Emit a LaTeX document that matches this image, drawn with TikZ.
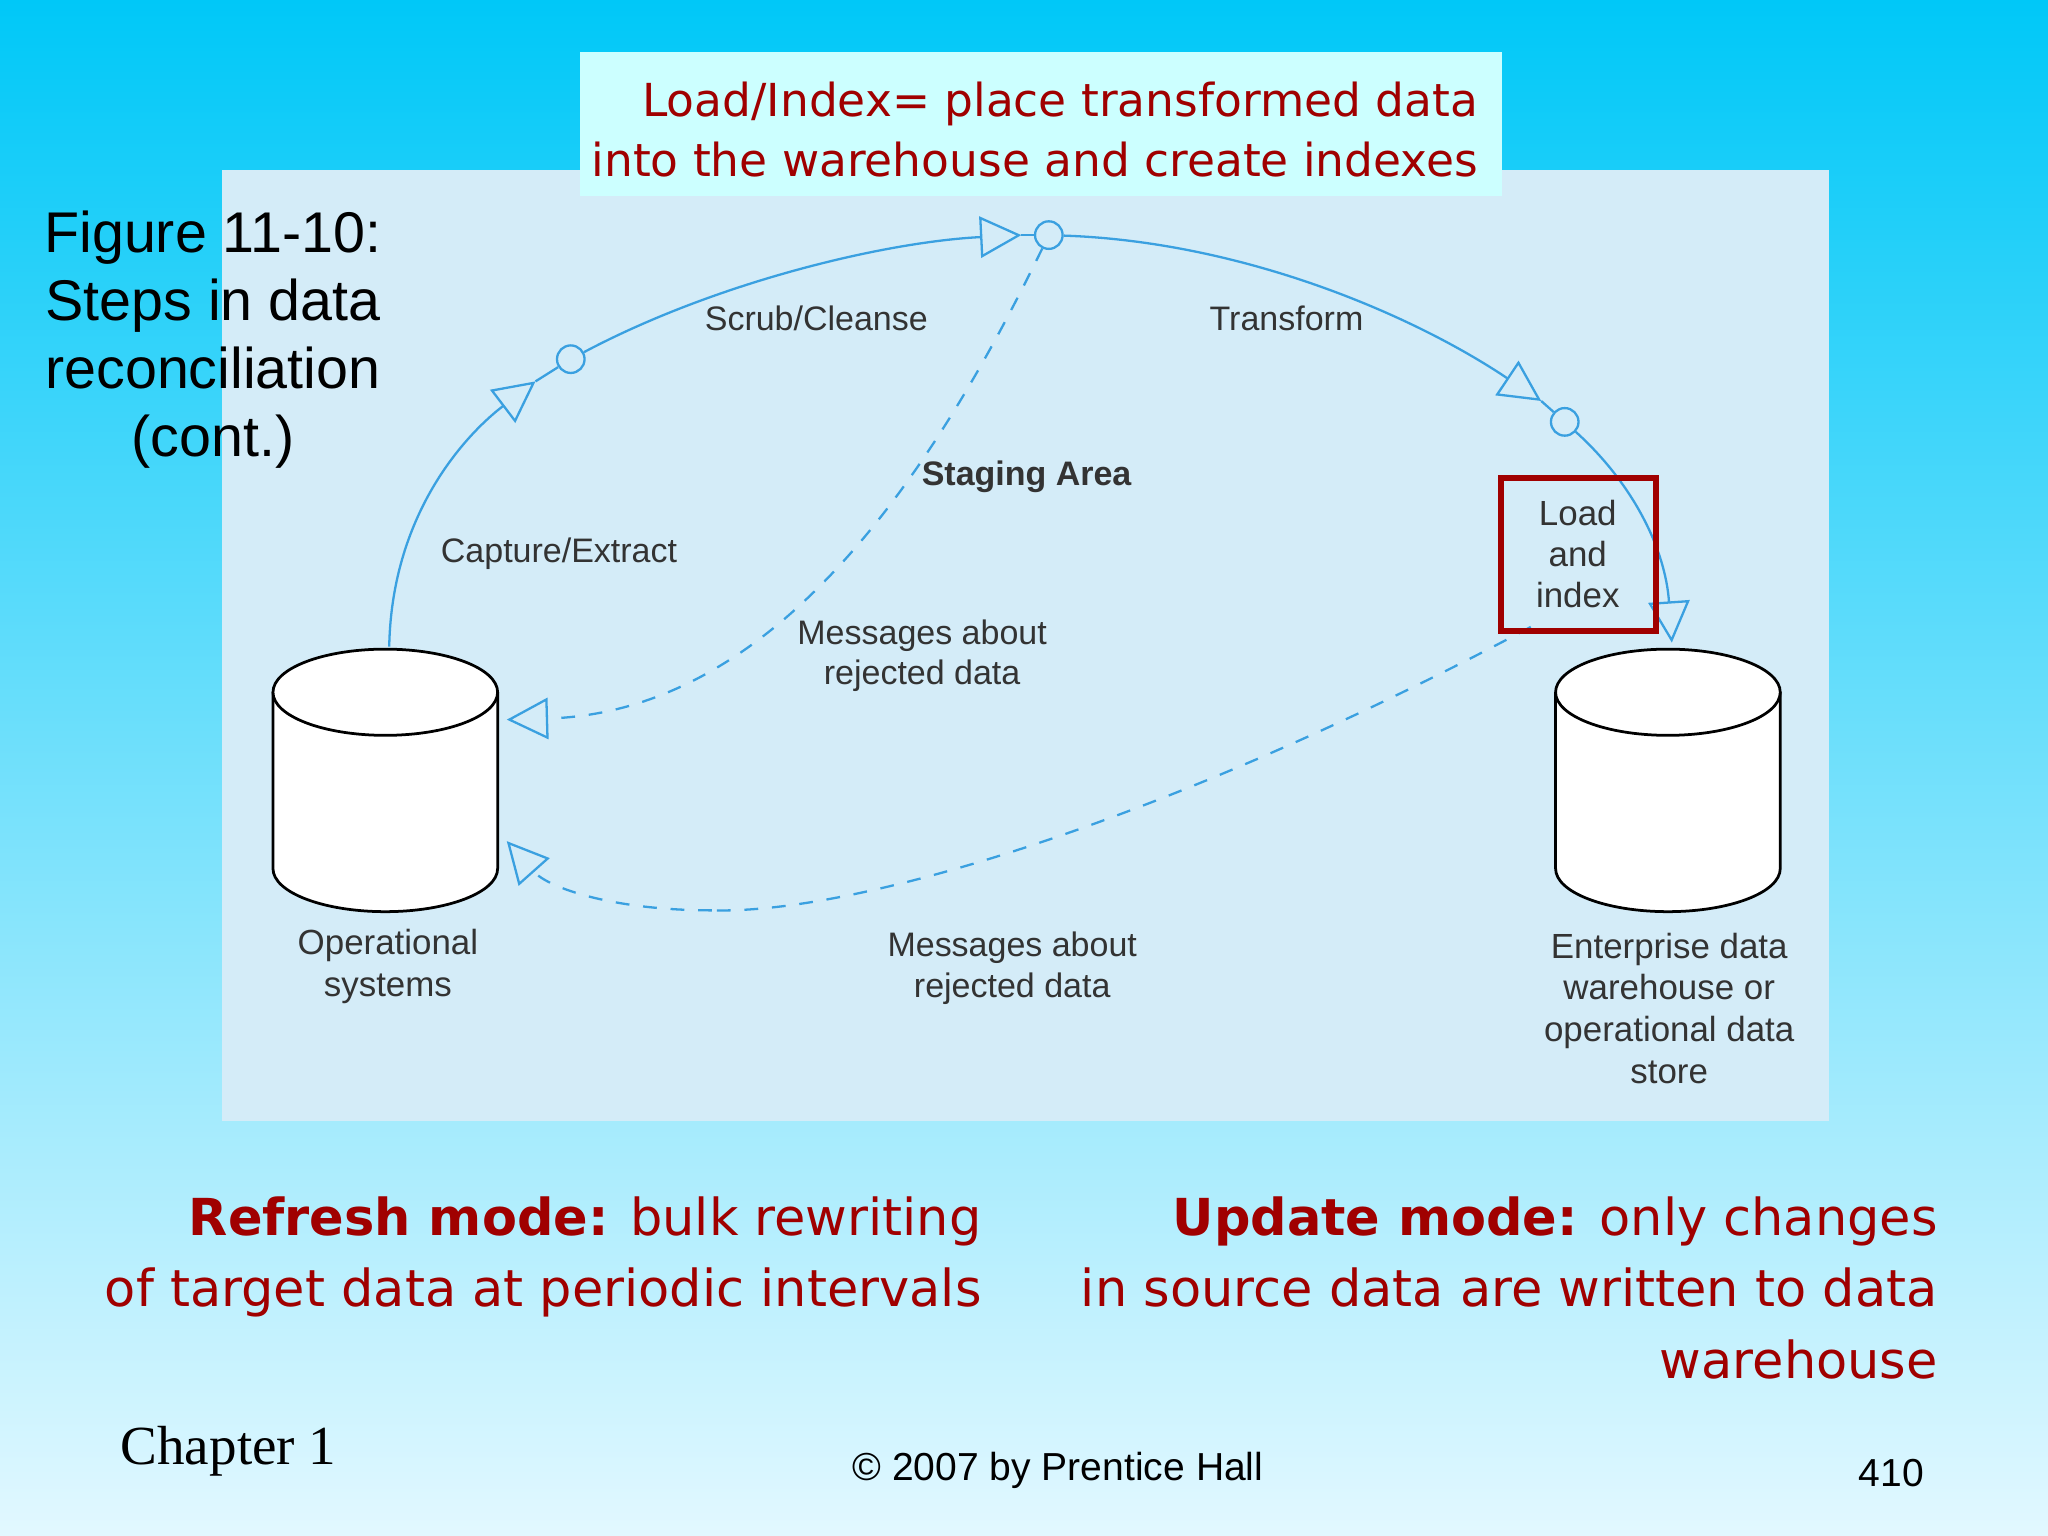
\documentclass[tikz,border=0pt]{standalone}
\usepackage{fontspec}
\setmainfont{Liberation Sans}
\newfontfamily\tah{DejaVu Sans}
\newfontfamily\tms{Liberation Serif}
\usetikzlibrary{arrows.meta}
\definecolor{bgtop}{HTML}{00C8F8}
\definecolor{bgbot}{HTML}{E2F8FF}
\definecolor{panel}{HTML}{D4ECF8}
\definecolor{tbox}{HTML}{CCFFFF}
\definecolor{dred}{HTML}{A00000}
\definecolor{ln}{HTML}{3AA0E0}
\begin{document}
\begin{tikzpicture}[x=0.01cm,y=-0.01cm,
  flow/.style={ln,line width=0.5pt},
  tip/.style={-{Triangle[open,length=9pt,width=9pt]}},
  dot/.style={circle,draw=ln,line width=0.5pt,minimum size=6pt,inner sep=0pt},
  lbl/.style={font=\fontsize{7.4}{8.9}\selectfont,text=black!80,align=center},
  red/.style={text=dred,font=\tah\fontsize{9.9}{13.2}\selectfont,align=right}]
\shade[top color=bgtop,bottom color=bgbot] (0,0) rectangle (1568,1176);
\useasboundingbox (0,0) rectangle (1568,1176);
\fill[panel] (170,130) rectangle (1400,858);
\fill[tbox] (444,40) rectangle (1150,150);
\node[red,anchor=north east] (title) at (1144,50) {Load/Index= place transformed data\\into the warehouse and create indexes};
\node[font=\fontsize{12.5}{14.8}\selectfont,align=center] (fig) at (163,260) {Figure 11-10:\\Steps in data\\reconciliation\\(cont.)};
% cylinders
\foreach \n/\cx in {opc/295,ewc/1277}{
  \fill[white,draw=black,line width=0.6pt] (\cx-86,530) -- (\cx-86,665) arc[start angle=180,end angle=360,x radius=86,y radius=-33] -- (\cx+86,530);
  \draw[fill=white,line width=0.6pt] (\cx,530) ellipse[x radius=86,y radius=33];
  \coordinate (\n) at (\cx,600);
}
\node[lbl,font=\fontsize{7.6}{9.1}\selectfont] (opl) at (297,740) {Operational\\systems};
\node[lbl,font=\fontsize{7.6}{9.1}\selectfont] (ewl) at (1278,772) {Enterprise data\\warehouse or\\operational data\\store};
% circles
\node[dot] (c1) at (437,275) {};
\node[dot] (c2) at (803,180) {};
\node[dot] (c3) at (1198,323) {};
\coordinate (s0) at (298,495);
\coordinate (a1) at (410,292);
\coordinate (a2) at (782,180);
\coordinate (a3) at (1180,307);
\coordinate (e4) at (1280,492);
\draw[flow,tip] (s0) .. controls (300,390) and (360,330) .. (a1);
\draw[flow] (a1) -- (c1);
\draw[flow,tip] (c1) .. controls (550,215) and (680,185) .. (a2);
\draw[flow] (a2) -- (c2);
\draw[flow,tip] (c2) .. controls (950,185) and (1080,240) .. (a3);
\draw[flow] (a3) -- (c3);
\draw[flow,tip] (c3) .. controls (1250,370) and (1275,420) .. (e4);
% dashed
\coordinate (d1e) at (388,551);
\coordinate (d2s) at (1172,480);
\coordinate (d2m) at (545,697);
\coordinate (d2e) at (388,644);
\draw[flow,dashed,tip] (c2) .. controls (720,350) and (600,545) .. (d1e);
\draw[flow,dashed] (d2s) .. controls (900,625) and (660,700) .. (d2m);
\draw[flow,dashed,tip] (d2m) .. controls (470,697) and (420,680) .. (d2e);
% box
\draw[dred,line width=1.4pt] (1149,366) rectangle (1268,483);
\node[lbl,font=\fontsize{7.6}{8.9}\selectfont] (lt) at (1208,424) {Load\\and\\index};
% labels
\node[lbl] (cap) at (428,424) {Capture/Extract};
\node[lbl] (scr) at (625,244) {Scrub/Cleanse};
\node[lbl] (tra) at (985,244) {Transform};
\node[lbl,font=\bfseries\fontsize{7.4}{8.9}\selectfont] (stg) at (786,365) {Staging Area};
\node[lbl] (m1) at (706,502) {Messages about\\rejected data};
\node[lbl] (m2) at (775,741) {Messages about\\rejected data};
% bottom
\node[red,font=\tah\fontsize{11.1}{15.5}\selectfont,anchor=north east] (rf) at (764,904) {{\bfseries Refresh mode:} bulk rewriting\\of target data at periodic intervals};
\node[red,font=\tah\fontsize{11.1}{15.5}\selectfont,anchor=north east] (up) at (1496,904) {{\bfseries Update mode:} only changes\\in source data are written to data\\warehouse};
\node[font=\tms\fontsize{12}{14}\selectfont] (ch) at (175,1111) {Chapter 1};
\node[font=\fontsize{8.5}{10}\selectfont] (cp) at (810,1126) {\textcopyright{} 2007 by Prentice Hall};
\node[font=\fontsize{8.5}{10}\selectfont] (pg) at (1448,1128) {410};
\end{tikzpicture}
\end{document}
